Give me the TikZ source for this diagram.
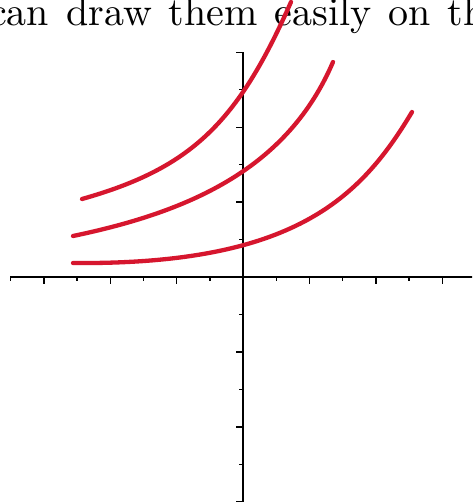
\documentclass[tikz,border=0pt]{standalone}
\usepackage{fontspec}
\newfontfamily\lmten{lmroman10-regular.otf}
\definecolor{penred}{RGB}{214,22,46}
\begin{document}
\begin{tikzpicture}[x=1pt,y=-1pt,
  axisline/.style={line width=1.6pt,black},
  tickline/.style={line width=1.4pt,black},
  curve/.style={penred,line width=4.3pt,line cap=round,line join=round}]
\useasboundingbox (0,0) rectangle (472,504);
\clip (0,0) rectangle (472,504);
\fill[white] (0,0) rectangle (472,504);
% text line
\node[anchor=base west,inner sep=0pt] (txt) at (-11,25)
  {\fontsize{40}{48}\lmten\spaceskip=17pt can draw them easily on th};
% axes
\coordinate (o) at (243,277);
\draw[axisline] (10,277) -- (480,277);
\draw[axisline] (243,52) -- (243,502);
\foreach \i in {-7,...,7}{
  \pgfmathsetmacro{\len}{ifthenelse(mod(abs(\i),2)==0,7,4)}
  \draw[tickline] (243+\i*33.2,277) -- ++(0,\len);
}
\foreach \j in {-6,...,6}{
  \pgfmathsetmacro{\len}{ifthenelse(mod(abs(\j),2)==0,7,4)}
  \draw[tickline] (243,277-\j*37.45) -- ++(-\len,0);
}
% curves
\draw[curve] (82,199) .. controls (192,168) and (238,122) .. (291,2);
\draw[curve] (73,236) .. controls (193,211) and (288,167) .. (333,62);
\draw[curve] (73,263) .. controls (293,265) and (360,199) .. (412,112);
\end{tikzpicture}
\end{document}
